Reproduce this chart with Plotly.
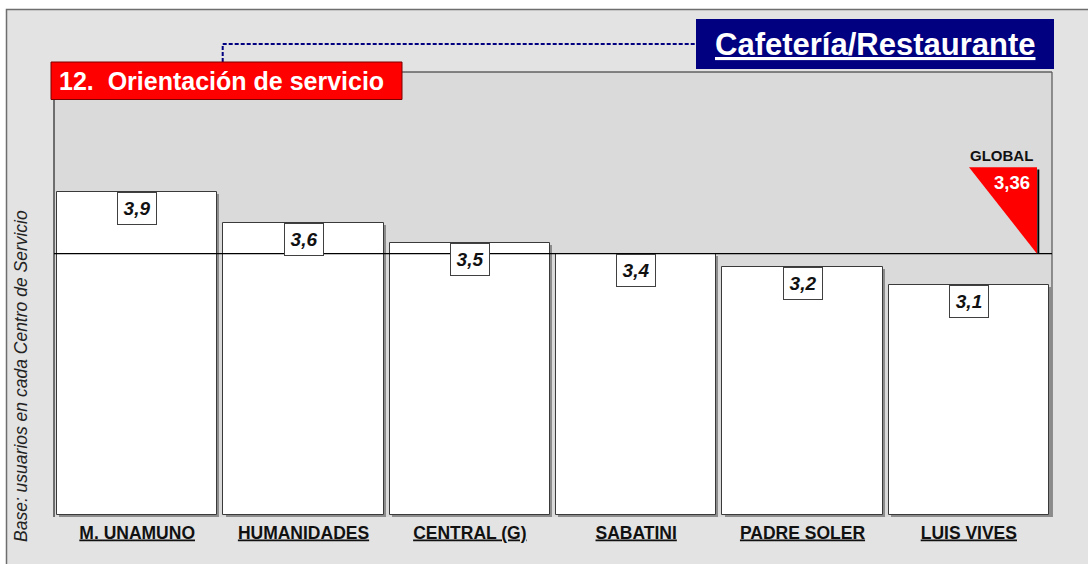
import plotly.graph_objects as go

categories = ["M. UNAMUNO", "HUMANIDADES", "CENTRAL (G)", "SABATINI", "PADRE SOLER", "LUIS VIVES"]
values = [3.92, 3.64, 3.46, 3.355, 3.24, 3.08]
value_labels = ["3,9", "3,6", "3,5", "3,4", "3,2", "3,1"]
global_value = 3.36
global_label = "3,36"
y_min = 1.0

FONT = "Liberation Sans, Arial, sans-serif"
PANEL = "#e3e3e3"
PLOTBG = "#dadada"

heights = [v - y_min for v in values]

fig = go.Figure()
# shadow bars
fig.add_trace(go.Bar(
    x=categories, y=heights, base=[y_min - 0.018] * len(categories),
    width=0.962, offset=-0.481 + 0.013,
    marker=dict(color="#8c8c8c", line=dict(width=0)),
    hoverinfo="skip", showlegend=False,
))
# main bars
fig.add_trace(go.Bar(
    x=categories, y=heights, base=[y_min] * len(categories),
    width=0.962, offset=-0.481,
    marker=dict(color="white", line=dict(color="#3a3a3a", width=1)),
    showlegend=False,
))

ax_bottom_px = 517
ax_top_px = 72
ax_left_px = 54
ax_right_px = 1052
W, H = 1088, 564
pw = ax_right_px - ax_left_px
ph = ax_bottom_px - ax_top_px


def px(x):
    return (x - ax_left_px) / pw


def py(y):
    return (ax_bottom_px - y) / ph


shapes = []
# outer panel
shapes.append(dict(type="rect", xref="paper", yref="paper",
                   x0=px(6.5), x1=px(1100), y0=py(580), y1=py(9.5),
                   fillcolor=PANEL, line=dict(color="#6e6e6e", width=1.5), layer="below"))
# plot area fill
shapes.append(dict(type="rect", xref="paper", yref="paper",
                   x0=0, x1=1, y0=0, y1=1,
                   fillcolor=PLOTBG, line=dict(width=0), layer="below"))
# plot borders: left, top, right
shapes.append(dict(type="line", xref="paper", yref="paper", x0=0, x1=0, y0=0, y1=1,
                   line=dict(color="#222", width=1.2)))
shapes.append(dict(type="line", xref="paper", yref="paper", x0=0, x1=1, y0=1, y1=1,
                   line=dict(color="#222", width=1.2)))
shapes.append(dict(type="line", xref="paper", yref="paper", x0=1, x1=1, y0=0, y1=1,
                   line=dict(color="#555", width=1.2)))
# global line
shapes.append(dict(type="line", xref="paper", yref="y", x0=0, x1=1,
                   y0=global_value, y1=global_value,
                   line=dict(color="black", width=1.2)))
# global triangle
tri_h = 0.78
shapes.append(dict(type="path", xref="paper", yref="y",
                   path=f"M {px(969)},{global_value + tri_h} L {px(1037)},{global_value + tri_h} L {px(1037)},{global_value} Z",
                   fillcolor="#ff0000", line=dict(width=0)))
shapes.append(dict(type="line", xref="paper", yref="y", x0=px(1038.3), x1=px(1038.3),
                   y0=global_value, y1=global_value + tri_h - 0.02,
                   line=dict(color="black", width=2)))
# dashed connector
shapes.append(dict(type="path", xref="paper", yref="paper",
                   path=f"M {px(222.7)},{py(62)} L {px(222.7)},{py(44)} L {px(696)},{py(44)}",
                   line=dict(color="#000080", width=2, dash="4px,2px")))
# red title box
shapes.append(dict(type="rect", xref="paper", yref="paper",
                   x0=px(51), x1=px(402), y0=py(99.5), y1=py(62),
                   fillcolor="#ff0000", line=dict(color="#7a0000", width=1)))
# navy title box
shapes.append(dict(type="rect", xref="paper", yref="paper",
                   x0=px(696), x1=px(1054), y0=py(69), y1=py(19),
                   fillcolor="#000080", line=dict(width=0)))

annotations = []
for c, v, lab in zip(categories, values, value_labels):
    annotations.append(dict(x=c, y=v, xref="x", yref="y", text=f"<b><i>{lab}</i></b>",
                            showarrow=False, yanchor="top", xanchor="center",
                            bgcolor="white", bordercolor="#404040", borderwidth=1,
                            borderpad=0, width=38, height=31,
                            font=dict(family=FONT, size=19, color="#111")))
annotations.append(dict(x=px(1001), y=global_value + tri_h, xref="paper", yref="y",
                        yshift=1, text="<b>GLOBAL</b>", showarrow=False,
                        yanchor="bottom", xanchor="center",
                        font=dict(family=FONT, size=15, color="#111")))
annotations.append(dict(x=px(1032), y=global_value + tri_h, xref="paper", yref="y",
                        yshift=-3, text=f"<b>{global_label}</b>", showarrow=False,
                        yanchor="top", xanchor="right",
                        font=dict(family=FONT, size=18.5, color="white")))
annotations.append(dict(x=px(57), y=py(81), xref="paper", yref="paper",
                        text="<b>12.\u00a0 Orientación de servicio</b>", showarrow=False,
                        xanchor="left", yanchor="middle",
                        font=dict(family=FONT, size=25, color="white")))
annotations.append(dict(x=px(875), y=py(44), xref="paper", yref="paper",
                        text="<b><u>Cafetería/Restaurante</u></b>", showarrow=False,
                        xanchor="center", yanchor="middle",
                        font=dict(family=FONT, size=31, color="white")))
annotations.append(dict(x=px(21), y=py(376), xref="paper", yref="paper",
                        text="<i>Base: usuarios en cada Centro de Servicio</i>", showarrow=False,
                        textangle=-90, xanchor="center", yanchor="middle",
                        font=dict(family=FONT, size=17.5, color="#222")))

y_lo = y_min - 2 / 110.75
fig.update_layout(
    width=W, height=H, autosize=False,
    margin=dict(l=ax_left_px, r=W - ax_right_px, t=ax_top_px, b=H - ax_bottom_px, pad=0),
    paper_bgcolor="white", plot_bgcolor="rgba(0,0,0,0)",
    barmode="overlay", bargap=0,
    shapes=shapes, annotations=annotations,
    xaxis=dict(type="category", tickvals=categories,
               ticktext=[f"<b><u>{c}</u></b>" for c in categories],
               tickfont=dict(family=FONT, size=17.5, color="#111"),
               showgrid=False, zeroline=False, showline=False, ticks="",
               ticklabelstandoff=3, range=[-0.5, len(categories) - 0.5]),
    yaxis=dict(range=[y_lo, 5.0], showgrid=False, zeroline=False,
               showticklabels=False, showline=False, ticks=""),
)

fig.write_html("out.html", config={"displayModeBar": False},
               post_script="document.body.style.margin='0px';")
